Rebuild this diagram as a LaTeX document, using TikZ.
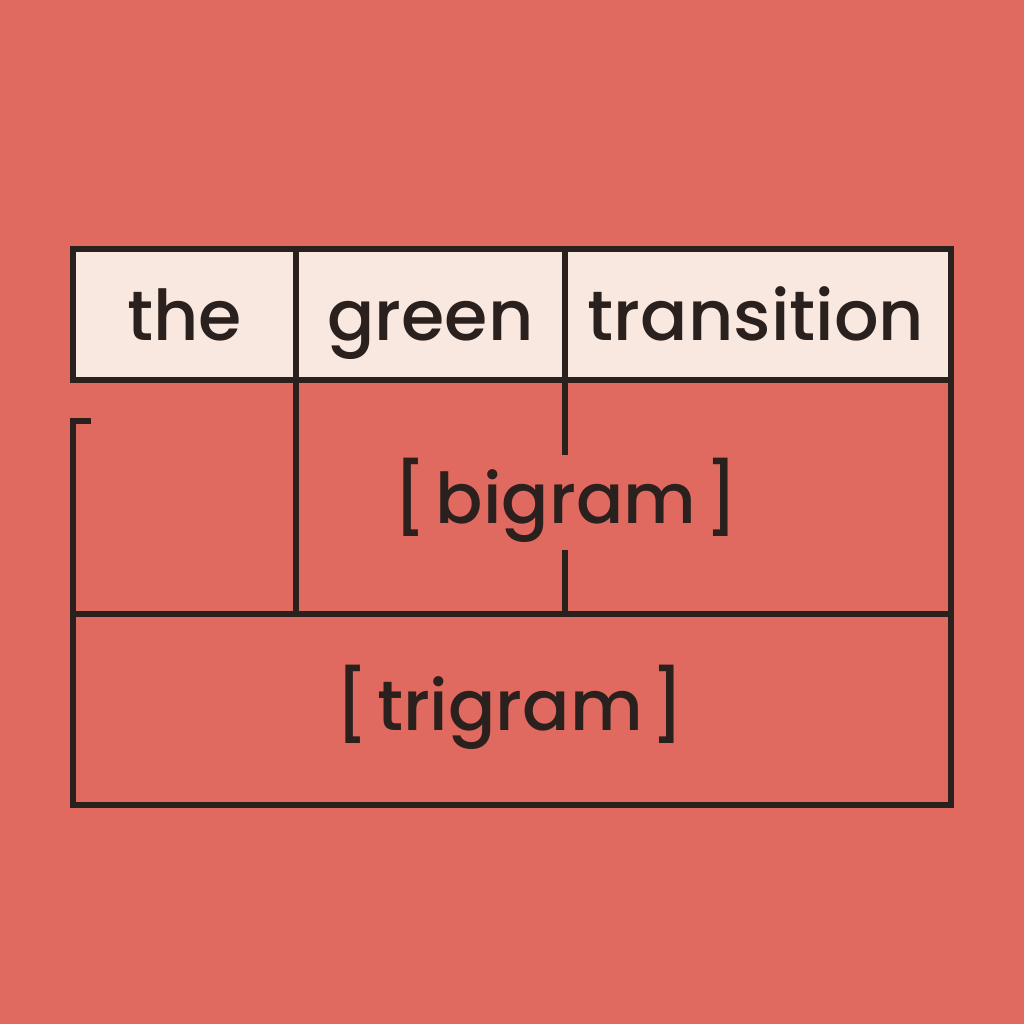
\documentclass[tikz,border=0pt]{standalone}
\usepackage{fontspec}
\setmainfont{Poppins}[UprightFont=* Medium]
\definecolor{bg}{HTML}{E06A60}
\definecolor{cream}{HTML}{F9E8DF}
\definecolor{ink}{HTML}{2A201D}
\begin{document}
\begin{tikzpicture}[x=1pt,y=-1pt,
  rule/.style={draw=ink,line width=6pt,line cap=rect},
  word/.style={text=ink,font=\fontsize{70}{76}\selectfont,anchor=base,inner sep=0pt}]
\fill[bg] (0,0) rectangle (1024,1024);
\useasboundingbox (0,0) rectangle (1024,1024);
% top row
\fill[cream] (73,249) rectangle (951,380);
\coordinate (tl) at (73,249);
\coordinate (tr) at (951,249);
\coordinate (ml) at (73,380);
\coordinate (mr) at (951,380);
\draw[rule] (tl) -- (tr) -- (mr) -- (ml) -- cycle;
\coordinate (d1t) at (296,249);
\coordinate (d1b) at (296,614);
\coordinate (d2t) at (565,249);
\coordinate (d2m) at (565,452);
\coordinate (d2n) at (565,553);
\coordinate (d2b) at (565,614);
\draw[rule] (d1t) -- (d1b);
\draw[rule] (d2t) -- (d2m);
\draw[rule] (d2n) -- (d2b);
% lower frame
\coordinate (bk) at (91,421);
\coordinate (lt) at (73,421);
\coordinate (lb) at (73,805);
\coordinate (rb) at (951,805);
\coordinate (hl) at (73,614);
\coordinate (hr) at (951,614);
\draw[rule,line cap=butt] (bk) -- (lt) -- (lb) -- (rb) -- (mr);
\draw[rule] (hl) -- (hr);
% words
\node[word] (the) at (184.5,340) {the};
\node[word] (green) at (430.5,340) {green};
\node[word] (transition) at (756,340) {transition};
\node[word] (bigram) at (566,523) {[\hspace{8pt}bigram\hspace{8pt}]};
\node[word] (trigram) at (510,730) {[\hspace{8pt}trigram\hspace{8pt}]};
\end{tikzpicture}
\end{document}
